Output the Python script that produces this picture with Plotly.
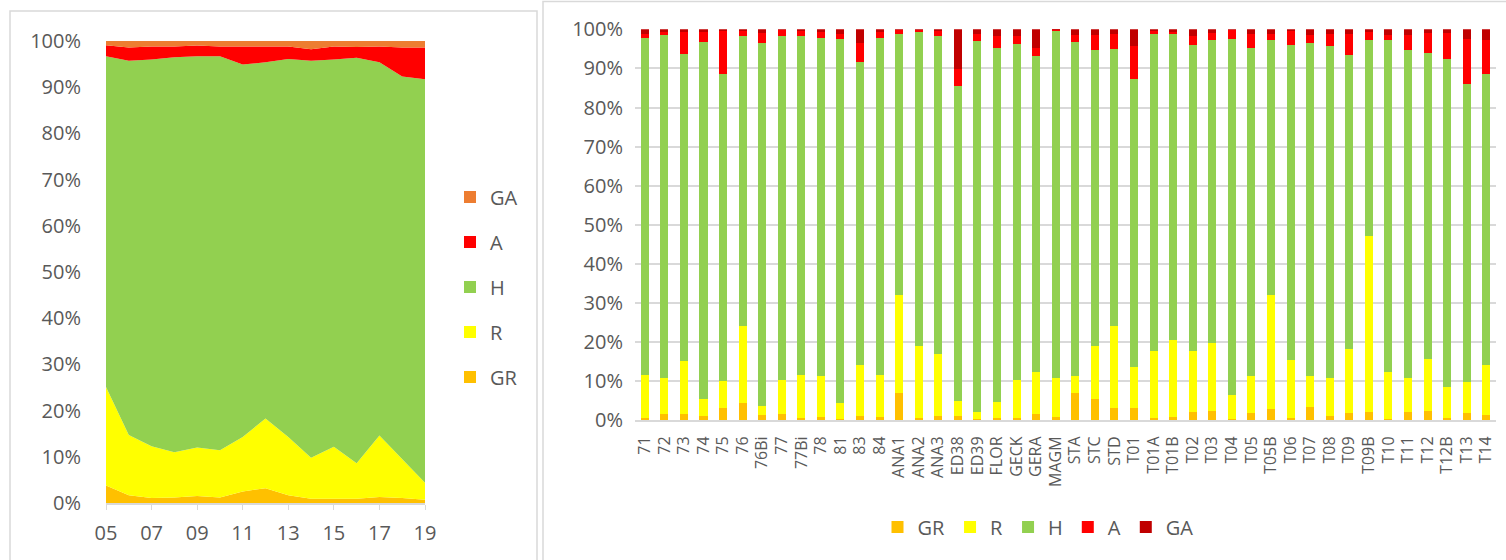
import plotly.graph_objects as go

# ---------------- data: left chart (stacked area, % per year) ----------------
years = ["05", "06", "07", "08", "09", "10", "11", "12", "13", "14", "15", "16", "17", "18", "19"]
year_ticks = ["05", "07", "09", "11", "13", "15", "17", "19"]
area_GR = [3.8, 1.7, 1.1, 1.2, 1.5, 1.2, 2.5, 3.2, 1.7, 0.9, 0.9, 0.9, 1.3, 1.1, 0.7]
area_R = [21.3, 13.0, 11.2, 9.8, 10.5, 10.2, 11.8, 15.1, 12.6, 8.9, 11.3, 7.7, 13.3, 8.5, 3.7]
area_H = [71.6, 81.0, 83.7, 85.5, 84.7, 85.3, 80.6, 77.1, 81.8, 85.9, 83.8, 87.8, 80.8, 82.7, 87.3]
area_A = [2.4, 2.9, 2.8, 2.3, 2.3, 2.1, 3.9, 3.4, 2.7, 2.5, 2.8, 2.3, 3.4, 6.3, 6.9]
area_GA = [0.9, 1.4, 1.2, 1.2, 1.0, 1.2, 1.2, 1.2, 1.2, 1.8, 1.2, 1.3, 1.2, 1.4, 1.4]

# ---------------- data: right chart (100% stacked bars) ----------------
sites = ["71", "72", "73", "74", "75", "76", "76Bi", "77", "77Bi", "78", "81", "83", "84",
         "ANA1", "ANA2", "ANA3", "ED38", "ED39", "FLOR", "GECK", "GERA", "MAGM",
         "STA", "STC", "STD", "T01", "T01A", "T01B", "T02", "T03", "T04", "T05", "T05B",
         "T06", "T07", "T08", "T09", "T09B", "T10", "T11", "T12", "T12B", "T13", "T14"]
bar_GR = [0.7, 1.6, 1.6, 1.1, 3.2, 4.3, 1.4, 1.6, 0.6, 0.9, 0.4, 1.1, 0.9,
          7.1, 0.7, 1.1, 1.1, 0.3, 0.7, 0.7, 1.7, 0.9,
          7.1, 5.5, 3.2, 3.2, 0.7, 0.9, 2.1, 2.4, 0.3, 1.8, 3.0,
          0.6, 3.4, 1.2, 1.9, 2.0, 0.3, 2.0, 2.5, 0.7, 1.9, 1.4]
bar_R = [10.9, 9.2, 13.6, 4.4, 6.9, 19.7, 2.2, 8.6, 11.0, 10.4, 3.9, 13.1, 10.6,
         25.0, 18.3, 15.8, 3.8, 1.7, 4.0, 9.5, 10.7, 9.9,
         4.3, 13.5, 20.8, 10.4, 16.9, 19.6, 15.5, 17.3, 6.2, 9.5, 29.1,
         14.7, 7.9, 9.5, 16.4, 45.2, 12.1, 8.8, 13.3, 7.9, 7.8, 12.8]
bar_H = [86.2, 87.8, 78.6, 91.3, 78.4, 74.4, 93.0, 88.1, 86.8, 86.5, 93.2, 77.4, 86.3,
         66.8, 80.4, 81.5, 80.6, 95.1, 90.5, 86.0, 80.7, 88.8,
         85.4, 75.8, 71.0, 73.8, 81.3, 78.3, 78.3, 77.5, 91.0, 84.0, 65.1,
         80.6, 85.3, 85.1, 75.2, 50.1, 84.9, 83.8, 78.1, 83.7, 76.4, 74.4]
bar_A = [1.1, 0.7, 5.5, 2.5, 11.0, 1.2, 2.4, 1.6, 1.2, 1.4, 1.4, 4.8, 1.5,
         1.0, 0.5, 1.1, 4.4, 1.7, 3.1, 2.1, 2.1, 0.3,
         1.7, 3.7, 3.8, 8.4, 0.7, 0.6, 2.4, 1.8, 2.3, 3.5, 1.6,
         3.6, 1.9, 3.1, 5.4, 2.1, 1.2, 3.9, 5.2, 6.8, 11.5, 8.7]
bar_GA = [1.1, 0.7, 0.7, 0.7, 0.5, 0.4, 1.0, 0.1, 0.4, 0.8, 1.1, 3.6, 0.7,
          0.1, 0.1, 0.5, 10.1, 1.2, 1.7, 1.7, 4.8, 0.1,
          1.5, 1.5, 1.2, 4.2, 0.4, 0.6, 1.7, 1.0, 0.2, 1.2, 1.2,
          0.5, 1.5, 1.1, 1.1, 0.6, 1.5, 1.5, 0.9, 0.9, 2.4, 2.7]

series_names = ["GR", "R", "H", "A", "GA"]
area_colors = ["#FFC000", "#FFFF00", "#92D050", "#FF0000", "#ED7D31"]
bar_colors = ["#FFC000", "#FFFF00", "#92D050", "#FF0000", "#C00000"]

W, H = 1506, 560
FONT = "Open Sans"
TXT = "#595959"
GRID = "#D9D9D9"

fig = go.Figure()

# left: stacked areas
for name, vals, col in zip(series_names, [area_GR, area_R, area_H, area_A, area_GA], area_colors):
    fig.add_trace(go.Scatter(
        x=years, y=[v / 100 for v in vals], name=name, stackgroup="one",
        mode="lines", line=dict(width=0, color=col), fillcolor=col,
        showlegend=False, xaxis="x", yaxis="y",
    ))
# legend-only square swatches for the left chart (GA on top)
for rank, (name, col) in enumerate(zip(series_names, area_colors)):
    fig.add_trace(go.Bar(
        x=[None], y=[None], name=name, marker=dict(color=col),
        legend="legend", legendgroup="L" + name, legendrank=10 - rank,
        xaxis="x", yaxis="y",
    ))

# right: stacked bars
for name, vals, col in zip(series_names, [bar_GR, bar_R, bar_H, bar_A, bar_GA], bar_colors):
    fig.add_trace(go.Bar(
        x=sites, y=[v / 100 for v in vals], name=name, marker=dict(color=col, line=dict(width=0)),
        legend="legend2", xaxis="x2", yaxis="y2",
    ))

def px_x(p):
    return p / W

def px_y(p):
    return 1 - p / H

fig.update_layout(
    template="none",
    width=W, height=H, autosize=False,
    margin=dict(l=0, r=0, t=0, b=0, pad=0),
    paper_bgcolor="white", plot_bgcolor="white",
    font=dict(family=FONT, color=TXT, size=20),
    barmode="stack", bargap=0.59,
    showlegend=True,
    xaxis=dict(
        domain=[px_x(106), px_x(425)], type="category", range=[0, 14],
        tickmode="array", tickvals=year_ticks, ticktext=year_ticks,
        ticks="outside", ticklen=5, tickcolor=GRID, showline=True, linecolor=GRID, linewidth=1.5,
        showgrid=False, zeroline=False, tickfont=dict(size=20, color=TXT), ticklabelstandoff=6,
        anchor="y", automargin=False,
    ),
    yaxis=dict(
        domain=[px_y(503), px_y(41)], range=[0, 1], tickformat=".0%", dtick=0.1, tick0=0,
        showgrid=False, showline=False, zeroline=False, ticks="",
        tickfont=dict(size=20, color=TXT), ticklabelstandoff=24, anchor="x", automargin=False,
    ),
    xaxis2=dict(
        domain=[px_x(635), px_x(1496)], type="category", range=[-0.5, 43.5],
        tickangle=-90, ticks="", showline=True, linecolor=GRID, linewidth=1.5,
        showgrid=False, zeroline=False, tickfont=dict(size=16, color=TXT), ticklabelstandoff=8,
        anchor="y2", automargin=False,
    ),
    yaxis2=dict(
        domain=[px_y(420.3), px_y(29.3)], range=[0, 1], tickformat=".0%", dtick=0.1, tick0=0,
        showgrid=True, gridcolor=GRID, gridwidth=1.5, zeroline=False, showline=False, ticks="",
        tickfont=dict(size=20, color=TXT), ticklabelstandoff=11, anchor="x2", automargin=False,
    ),
    legend=dict(
        x=px_x(450), y=px_y(287), xanchor="left", yanchor="middle",
        orientation="v", traceorder="grouped", tracegroupgap=16,
        font=dict(size=20, color=TXT), bgcolor="rgba(0,0,0,0)", itemwidth=30,
    ),
    legend2=dict(
        x=px_x(1038), y=px_y(527), xanchor="center", yanchor="middle",
        orientation="h", traceorder="normal",
        font=dict(size=20, color=TXT), bgcolor="rgba(0,0,0,0)", itemwidth=30,
    ),
    shapes=[
        dict(type="rect", xref="paper", yref="paper", x0=px_x(10), x1=px_x(537), y0=-0.1, y1=px_y(11),
             line=dict(color=GRID, width=1.5), fillcolor="rgba(0,0,0,0)", layer="below"),
        dict(type="rect", xref="paper", yref="paper", x0=px_x(543), x1=1.05, y0=-0.1, y1=px_y(1.5),
             line=dict(color=GRID, width=1.5), fillcolor="rgba(0,0,0,0)", layer="below"),
    ],
)

fig.write_html(
    "out.html",
    config={"displayModeBar": False},
    post_script="document.body.style.margin='0';document.body.style.overflow='hidden';",
)
